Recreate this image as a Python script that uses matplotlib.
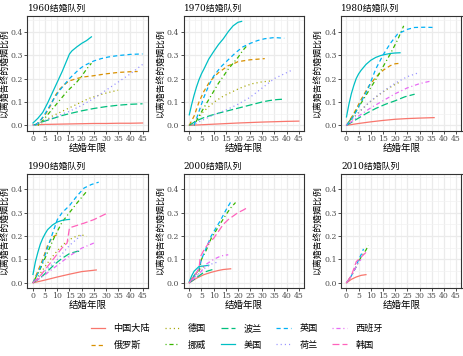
import matplotlib
matplotlib.use("Agg")
import matplotlib.pyplot as plt
from matplotlib.ticker import MultipleLocator, FormatStrFormatter

plt.rcParams['font.family'] = ['DejaVu Serif', 'Noto Sans CJK SC']
plt.rcParams['lines.scale_dashes'] = False

countries = ["中国大陆", "俄罗斯", "德国", "挪威", "波兰", "美国", "英国", "荷兰", "西班牙", "韩国"]
colors = ["#F8766D", "#D89000", "#A3A500", "#39B600", "#00BF7D",
          "#00BFC4", "#00B0F6", "#9590FF", "#E76BF3", "#FF62BC"]
dash_styles = ["-", (0, (3, 2.2)), (0, (0.8, 2.2)), (0, (0.8, 2, 3, 2)), (0, (5, 2.2))] * 2

cohort_titles = ["1960结婚队列", "1970结婚队列", "1980结婚队列",
                 "1990结婚队列", "2000结婚队列", "2010结婚队列"]
x_ticks = [0, 5, 10, 15, 20, 25, 30, 35, 40, 45]
y_ticks = [0.0, 0.1, 0.2, 0.3, 0.4]

# (years since marriage, share ending in divorce)
cohort_1960 = {
    "中国大陆": ([0, 5, 10, 15, 20, 25, 30, 35, 40, 45],
             [0.002, 0.004, 0.005, 0.006, 0.007, 0.008, 0.008, 0.009, 0.009, 0.01]),
    "俄罗斯": ([1, 3, 5, 7, 9, 11, 13, 15, 18, 21, 25, 30, 35, 40, 43],
            [0.0, 0.02, 0.045, 0.08, 0.125, 0.155, 0.175, 0.19, 0.2, 0.207, 0.212, 0.22, 0.226, 0.229, 0.23]),
    "德国": ([2, 5, 8, 11, 14, 17, 20, 23, 26, 29, 32, 35],
           [0.0, 0.02, 0.04, 0.055, 0.07, 0.085, 0.1, 0.115, 0.125, 0.135, 0.143, 0.15]),
    "挪威": ([2, 4, 6, 8, 10, 12, 14, 16, 18, 20, 22, 24],
           [0.0, 0.02, 0.045, 0.07, 0.095, 0.12, 0.145, 0.165, 0.185, 0.21, 0.24, 0.265]),
    "波兰": ([0, 3, 6, 9, 12, 15, 20, 25, 30, 35, 40, 45],
           [0.0, 0.012, 0.022, 0.032, 0.042, 0.05, 0.062, 0.072, 0.08, 0.086, 0.09, 0.092]),
    "美国": ([0, 2, 4, 6, 8, 10, 12, 14, 15, 16, 18, 20, 22, 24],
           [0.01, 0.03, 0.055, 0.095, 0.14, 0.185, 0.23, 0.28, 0.305, 0.318, 0.335, 0.35, 0.362, 0.378]),
    "英国": ([1, 3, 5, 7, 9, 11, 13, 15, 17, 19, 21, 23, 25, 28, 31, 35, 40, 45],
           [0.0, 0.02, 0.05, 0.085, 0.12, 0.15, 0.175, 0.2, 0.22, 0.24, 0.255, 0.265, 0.275, 0.285,
            0.292, 0.298, 0.303, 0.305]),
    "荷兰": ([0, 5, 10, 15, 20, 25, 30, 35, 40, 45],
           [0.0, 0.02, 0.04, 0.06, 0.085, 0.115, 0.15, 0.185, 0.22, 0.26]),
}

cohort_1970 = {
    "中国大陆": ([0, 10, 20, 30, 40, 45], [0.0, 0.005, 0.01, 0.014, 0.017, 0.018]),
    "俄罗斯": ([0, 2, 4, 6, 8, 10, 12, 14, 16, 18, 20, 25, 31],
            [0.0, 0.04, 0.1, 0.145, 0.18, 0.205, 0.225, 0.24, 0.255, 0.262, 0.272, 0.28, 0.285]),
    "德国": ([1, 3, 5, 8, 11, 14, 17, 20, 23, 26, 30, 34],
           [0.0, 0.025, 0.05, 0.08, 0.105, 0.125, 0.14, 0.155, 0.168, 0.178, 0.186, 0.19]),
    "挪威": ([2, 4, 6, 8, 10, 12, 14, 16, 18, 20, 22, 23.5],
           [0.0, 0.04, 0.075, 0.11, 0.145, 0.18, 0.21, 0.24, 0.265, 0.29, 0.32, 0.338]),
    "波兰": ([0, 3, 6, 9, 12, 15, 18, 21, 24, 27, 30, 33, 36, 39],
           [0.0, 0.02, 0.033, 0.043, 0.052, 0.06, 0.068, 0.076, 0.084, 0.092, 0.1, 0.106, 0.11, 0.112]),
    "美国": ([0, 1, 2, 3, 4, 5, 6, 8, 10, 12, 14, 16, 18, 20, 21.5],
           [0.045, 0.09, 0.13, 0.165, 0.195, 0.22, 0.24, 0.283, 0.315, 0.345, 0.37, 0.4, 0.425, 0.44, 0.444]),
    "英国": ([2, 4, 6, 8, 10, 13, 16, 19, 22, 25, 28, 31, 35, 39],
           [0.0, 0.06, 0.12, 0.17, 0.21, 0.25, 0.28, 0.31, 0.335, 0.35, 0.362, 0.37, 0.375, 0.372]),
    "荷兰": ([1, 5, 10, 15, 20, 25, 30, 35, 40, 42],
           [0.0, 0.02, 0.045, 0.065, 0.09, 0.12, 0.16, 0.2, 0.225, 0.235]),
}

cohort_1980 = {
    "中国大陆": ([0, 5, 10, 15, 20, 25, 30, 36],
             [0.0, 0.008, 0.015, 0.021, 0.026, 0.029, 0.031, 0.033]),
    "俄罗斯": ([0, 3, 6, 9, 12, 15, 18, 20, 22],
            [0.0, 0.05, 0.11, 0.165, 0.205, 0.235, 0.255, 0.263, 0.265]),
    "德国": ([0, 4, 8, 12, 16, 20, 22], [0.0, 0.045, 0.085, 0.12, 0.15, 0.175, 0.185]),
    "挪威": ([0, 3, 6, 9, 12, 15, 18, 21, 23.5],
           [0.0, 0.045, 0.095, 0.145, 0.195, 0.25, 0.305, 0.365, 0.425]),
    "波兰": ([0, 4, 8, 12, 16, 20, 24, 28], [0.0, 0.025, 0.05, 0.072, 0.09, 0.105, 0.122, 0.133]),
    "美国": ([0, 1, 2, 3, 4, 5, 6, 8, 10, 12, 14, 16, 18, 20, 22],
           [0.036, 0.09, 0.135, 0.17, 0.2, 0.22, 0.235, 0.26, 0.278, 0.29, 0.298, 0.303, 0.307, 0.309, 0.31]),
    "英国": ([0, 3, 6, 9, 12, 15, 18, 21, 25, 28, 32, 36],
           [0.0, 0.04, 0.1, 0.16, 0.24, 0.3, 0.35, 0.39, 0.41, 0.418, 0.419, 0.418]),
    "荷兰": ([0, 5, 10, 15, 20, 25, 30], [0.0, 0.055, 0.105, 0.145, 0.18, 0.208, 0.226]),
    "西班牙": ([0, 5, 10, 15, 20, 25, 30, 35], [0.0, 0.04, 0.075, 0.105, 0.135, 0.16, 0.178, 0.19]),
}

cohort_1990 = {
    "中国大陆": ([0, 5, 10, 15, 20, 26], [0.0, 0.012, 0.025, 0.037, 0.048, 0.055]),
    "俄罗斯": ([0, 2, 4, 6, 8, 10.5], [0.0, 0.05, 0.1, 0.16, 0.195, 0.21]),
    "德国": ([0, 3, 6, 9, 12, 15, 18, 20, 22],
           [0.0, 0.04, 0.085, 0.125, 0.16, 0.185, 0.2, 0.205, 0.198]),
    "挪威": ([0, 3, 6, 9, 12, 15, 18, 22], [0.0, 0.06, 0.13, 0.2, 0.26, 0.3, 0.34, 0.39]),
    "波兰": ([0, 3, 6, 9, 12, 15, 18, 20], [0.0, 0.02, 0.05, 0.08, 0.105, 0.125, 0.134, 0.136]),
    "美国": ([0, 1, 2, 3, 4, 5, 6, 8, 10, 12, 14, 15],
           [0.036, 0.09, 0.13, 0.165, 0.19, 0.21, 0.227, 0.247, 0.26, 0.267, 0.27, 0.271]),
    "英国": ([0, 2, 4, 6, 8, 10, 12, 15, 18, 21, 24, 27],
           [0.0, 0.04, 0.09, 0.15, 0.21, 0.27, 0.3, 0.33, 0.37, 0.405, 0.42, 0.43]),
    "荷兰": ([0, 5, 10, 15, 20], [0.0, 0.05, 0.1, 0.16, 0.205]),
    "西班牙": ([0, 5, 10, 15, 20, 25], [0.0, 0.035, 0.075, 0.115, 0.148, 0.17]),
    "韩国": ([0, 3, 6, 9, 12, 14, 15, 18, 21, 25, 28, 30],
           [0.0, 0.03, 0.07, 0.11, 0.15, 0.17, 0.235, 0.245, 0.255, 0.27, 0.285, 0.295]),
}

cohort_2000 = {
    "中国大陆": ([0, 3, 6, 9, 12, 14, 17], [0.0, 0.02, 0.035, 0.045, 0.053, 0.057, 0.06]),
    "俄罗斯": ([0, 1, 2, 3], [0.0, 0.015, 0.03, 0.045]),
    "德国": ([0, 2, 4, 6], [0.0, 0.03, 0.055, 0.07]),
    "挪威": ([0, 2, 4, 5, 7, 9, 12, 15, 17, 19],
           [0.0, 0.03, 0.05, 0.1, 0.14, 0.19, 0.24, 0.29, 0.32, 0.343]),
    "波兰": ([0, 2, 4, 6, 8, 10], [0.0, 0.015, 0.03, 0.045, 0.052, 0.058]),
    "美国": ([0, 1, 2, 3, 4, 6, 8], [0.005, 0.03, 0.05, 0.06, 0.07, 0.072, 0.075]),
    "英国": ([0, 2, 4, 5, 7, 9, 11, 13, 15, 17],
           [0.0, 0.03, 0.06, 0.1, 0.15, 0.2, 0.235, 0.27, 0.31, 0.345]),
    "荷兰": ([0, 3, 6, 9, 12], [0.0, 0.03, 0.06, 0.08, 0.09]),
    "西班牙": ([0, 3, 5, 7, 10, 13, 16], [0.0, 0.03, 0.05, 0.08, 0.1, 0.115, 0.12]),
    "韩国": ([0, 2, 4, 4.5, 6, 8, 10, 12, 14, 16, 18, 20, 22, 24],
           [0.0, 0.03, 0.06, 0.11, 0.14, 0.17, 0.19, 0.22, 0.25, 0.27, 0.285, 0.3, 0.31, 0.322]),
}

cohort_2010 = {
    "中国大陆": ([0, 2, 4, 6, 8], [0.0, 0.015, 0.025, 0.032, 0.035]),
    "挪威": ([0, 2, 4, 6, 8, 9], [0.0, 0.03, 0.07, 0.11, 0.14, 0.16]),
    "英国": ([0, 2, 4, 5, 6, 7], [0.0, 0.03, 0.07, 0.1, 0.12, 0.145]),
    "西班牙": ([0, 2, 4, 5, 6], [0.0, 0.03, 0.07, 0.09, 0.1]),
    "韩国": ([0, 2, 4, 6, 8], [0.0, 0.03, 0.09, 0.11, 0.13]),
}

cohorts = [cohort_1960, cohort_1970, cohort_1980, cohort_1990, cohort_2000, cohort_2010]

W, H = 464, 356
fig = plt.figure(figsize=(W / 100, H / 100), dpi=100)

lefts = [27.5, 183.8, 341.0]
tops = [16.0, 173.5]
pw, ph = 120.5, 114.5
ylab_x = [-0.15, -0.155, -0.16]

handles = {}
for i, (data, title) in enumerate(zip(cohorts, cohort_titles)):
    r, c = divmod(i, 3)
    ax = fig.add_axes([lefts[c] / W, 1 - (tops[r] + ph) / H, pw / W, ph / H])
    ax.set_xlim(-2.25, 47.25)
    ax.set_ylim(-0.022, 0.467)
    ax.xaxis.set_minor_locator(MultipleLocator(2.5))
    ax.yaxis.set_minor_locator(MultipleLocator(0.05))
    ax.set_xticks(x_ticks)
    ax.set_yticks(y_ticks)
    ax.yaxis.set_major_formatter(FormatStrFormatter('%.1f'))
    ax.grid(which='major', color='#EBEBEB', lw=0.9)
    ax.grid(which='minor', color='#F2F2F2', lw=0.5)
    ax.set_axisbelow(True)
    for s in ax.spines.values():
        s.set_color('#333333')
        s.set_linewidth(0.8)
    ax.tick_params(which='major', length=2.2, width=0.6, color='#333333',
                   labelsize=5.6, labelcolor='#4D4D4D', pad=1.0)
    ax.tick_params(which='minor', length=0)

    for name, col, ls in zip(countries, colors, dash_styles):
        if name not in data:
            continue
        xs, ys = data[name]
        ln, = ax.plot(xs, ys, color=col, lw=0.9, linestyle=ls, label=name)
        handles[name] = ln

    ax.set_title(title, loc='left', fontsize=6.4, pad=3.5, color='black')
    ax.set_xlabel("结婚年限", fontsize=6.8, labelpad=0.5)
    ax.set_ylabel("以离婚告终的婚姻比例", fontsize=6.4)
    ax.yaxis.set_label_coords(ylab_x[c], 0.5)

fig.legend([handles[n] for n in countries], countries, loc='center',
           bbox_to_anchor=(0.51, 0.054), ncol=5, frameon=False, fontsize=6.6,
           handlelength=1.6, handletextpad=0.9, columnspacing=1.6,
           labelspacing=0.85)

fig.savefig("out.png", dpi=100)
